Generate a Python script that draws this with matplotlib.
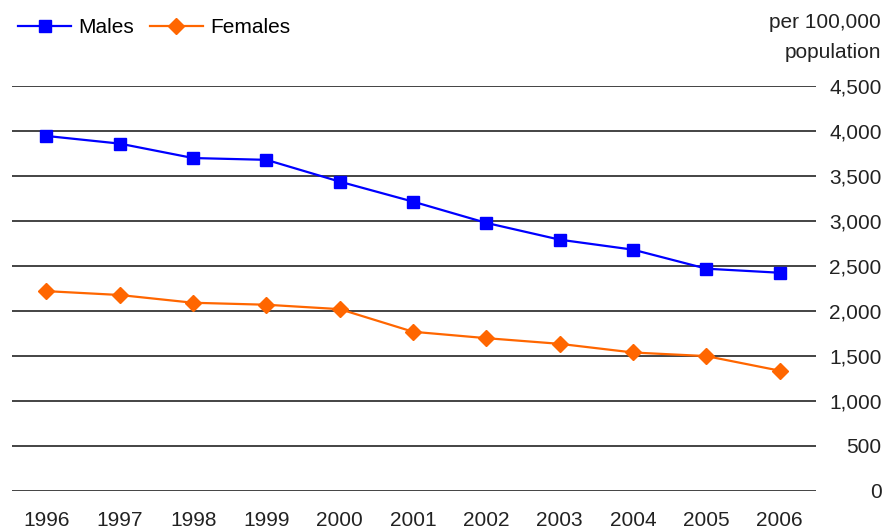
import matplotlib
matplotlib.use("Agg")
import matplotlib.pyplot as plt

years = ["1996", "1997", "1998", "1999", "2000", "2001", "2002", "2003", "2004", "2005", "2006"]
males = [3940, 3855, 3695, 3675, 3433, 3211, 2975, 2789, 2678, 2467, 2422]
females = [2218, 2175, 2089, 2067, 2018, 1767, 1696, 1633, 1537, 1497, 1335]
yticks = [0, 500, 1000, 1500, 2000, 2500, 3000, 3500, 4000, 4500]
ytick_labels = ["0", "500", "1,000", "1,500", "2,000", "2,500", "3,000", "3,500", "4,000", "4,500"]

plt.rcParams['font.family'] = ['Liberation Sans', 'DejaVu Sans']
FS = 15

fig = plt.figure(figsize=(8.88, 5.32), dpi=100)
ax = fig.add_axes([12/888, 1 - 491/532, (815.7 - 12)/888, (491 - 85.5)/532])

x = list(range(len(years)))
l1, = ax.plot(x, males, color='#0000FF', lw=1.6, marker='s', ms=8.5, mec='#0000FF', label='Males', zorder=3)
l2, = ax.plot(x, females, color='#FF6600', lw=1.6, marker='D', ms=8, mec='#FF6600', label='Females', zorder=3)

ax.set_xlim(-0.47, 10.49)
ax.set_ylim(0, 4500)
ax.set_yticks(yticks)
ax.set_yticklabels(ytick_labels)
ax.set_xticks(x)
ax.set_xticklabels(years)
ax.yaxis.tick_right()
for lab in ax.get_yticklabels():
    lab.set_horizontalalignment('right')
ax.tick_params(axis='y', length=0, pad=47.5, labelsize=FS, labelcolor='#222222')
ax.tick_params(axis='x', length=0, pad=14.5, labelsize=FS, labelcolor='#222222')
for s in ax.spines.values():
    s.set_visible(False)
ax.grid(axis='y', color='#111111', lw=1.1)
ax.set_axisbelow(True)

fig.text(881/888, 1 - 23/532, "per 100,000", ha='right', va='center', fontsize=FS, color='#222222')
fig.text(881/888, 1 - 53/532, "population", ha='right', va='center', fontsize=FS, color='#222222')

fig.legend(handles=[l1, l2], loc='center left', bbox_to_anchor=(18/888, 1 - 28/532), ncol=2,
           frameon=False, fontsize=FS, handlelength=2.55, handletextpad=0.35, columnspacing=0.75,
           borderaxespad=0, borderpad=0)

fig.savefig("out.png", dpi=100)
